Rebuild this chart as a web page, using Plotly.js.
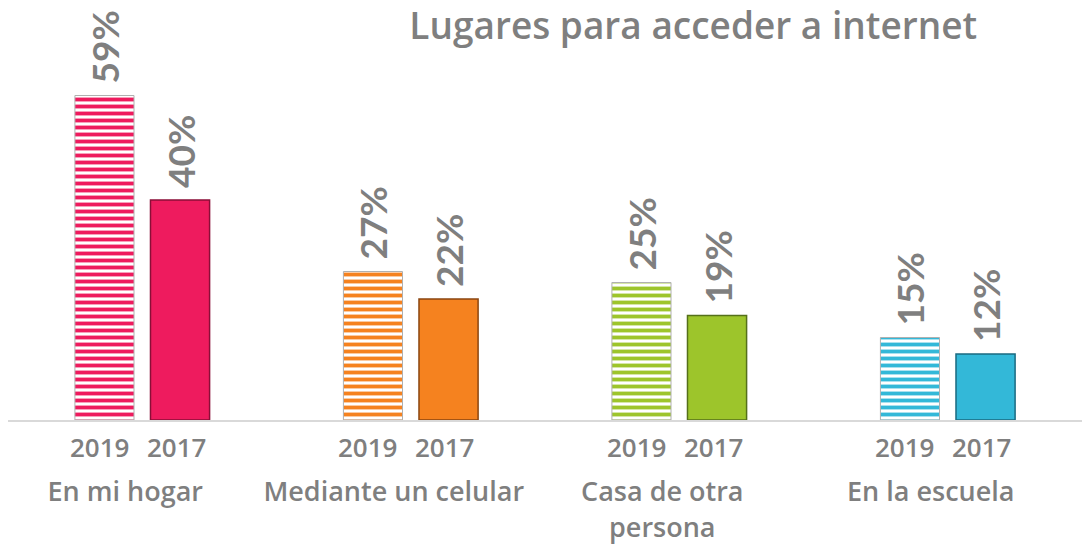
<!DOCTYPE html>
<html>
<head>
<meta charset="utf-8">
<script src="https://cdn.plot.ly/plotly-3.0.1.min.js"></script>
<style>html,body{margin:0;padding:0;background:#fff;}#chart{width:1083px;height:544px;}</style>
</head>
<body>
<div id="chart"></div>
<script>
// ---- data ----
const categories = ["En mi hogar", "Mediante un celular", "Casa de otra<br>persona", "En la escuela"];
const years = ["2019", "2017"];
const values2019 = [59, 27, 25, 15];
const values2017 = [40, 22, 19, 12];
const colors = ["#EE1B5E", "#F5821F", "#9DC52B", "#33B8D8"];
const edgeColors = ["#8A0E37", "#8A4510", "#55701A", "#1A6A80"];
const title = "Lugares para acceder a internet";

const grey = "#7F7F7F";
const textFont = "Open Sans, DejaVu Sans, sans-serif";
const labelFont = "Lato, DejaVu Sans, sans-serif";

const dataLabel = {
  texttemplate: "\u00A0%{y}%",
  textposition: "outside",
  textangle: -90,
  constraintext: "none",
  cliponaxis: false,
  textfont: {family: labelFont, size: 37, color: grey, weight: "bold"},
  hoverinfo: "skip"
};

const trace2019 = Object.assign({
  type: "bar",
  name: years[0],
  x: categories,
  y: values2019,
  marker: {
    color: colors,
    pattern: {shape: "-", fillmode: "replace", fgcolor: colors, bgcolor: "#FFFFFF", size: 7, solidity: 0.55},
    line: {color: "#B0B0B0", width: 1}
  }
}, dataLabel);

const trace2017 = Object.assign({
  type: "bar",
  name: years[1],
  x: categories,
  y: values2017,
  marker: {color: colors, line: {color: edgeColors, width: 1.5}}
}, dataLabel);

const annotations = [];
categories.forEach(function (c) {
  years.forEach(function (yr, j) {
    annotations.push({
      x: c, y: 0, xref: "x", yref: "y",
      xshift: j === 0 ? -43 : 34, yshift: -7,
      yanchor: "top", xanchor: "center",
      showarrow: false, text: yr,
      font: {family: textFont, size: 26, color: grey, weight: 600}
    });
  });
});

const layout = {
  width: 1083, height: 544,
  margin: {l: 8, r: 1, t: 5, b: 124},
  paper_bgcolor: "#FFFFFF", plot_bgcolor: "#FFFFFF",
  showlegend: false,
  barmode: "group",
  bargap: 0.437,
  bargroupgap: 0.218,
  title: {
    text: title,
    x: 691 / 1083, xanchor: "center", xref: "paper",
    y: 1 - 13 / 544, yanchor: "top", yref: "container",
    font: {family: textFont, size: 37, color: grey, weight: 600}
  },
  xaxis: {
    type: "category",
    showline: true, linecolor: "#D9D9D9", linewidth: 2,
    ticks: "", showgrid: false, zeroline: false,
    tickfont: {family: textFont, size: 27, color: grey, weight: 600},
    ticklabelstandoff: 47,
    ticklabelshift: -17,
    fixedrange: true
  },
  yaxis: {
    range: [0, 415 / 5.5],
    visible: false, showgrid: false, zeroline: false, fixedrange: true
  },
  annotations: annotations
};

Plotly.newPlot("chart", [trace2019, trace2017], layout, {displayModeBar: false, staticPlot: true});
</script>
</body>
</html>
